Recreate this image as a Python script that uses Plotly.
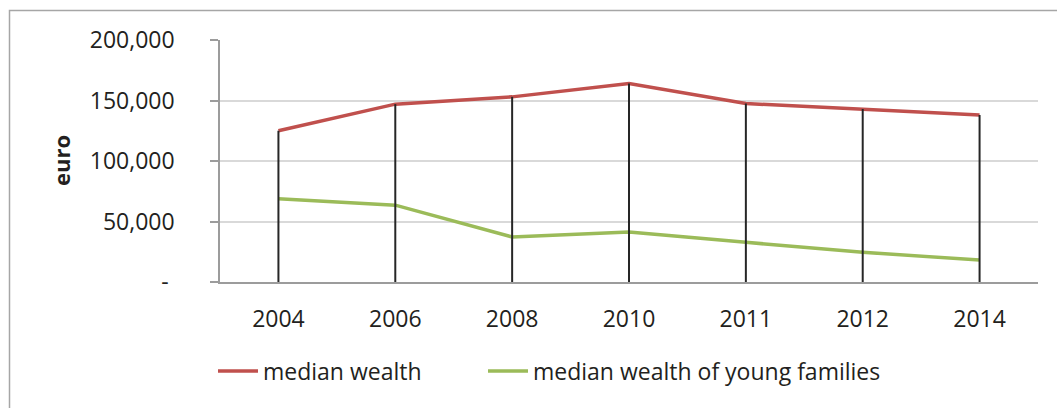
import plotly.graph_objects as go

# Survey years and median household wealth (euro)
years = ["2004", "2006", "2008", "2010", "2011", "2012", "2014"]
median_wealth = [125000, 147000, 153000, 164000, 147500, 143000, 138000]
median_wealth_young = [68700, 63500, 37200, 41300, 32800, 24500, 18100]

y_tick_vals = [0, 50000, 100000, 150000, 200000]
y_tick_text = ["-\u00a0", "50,000", "100,000", "150,000", "200,000"]

RED = "#C0504D"
GREEN = "#9BBB59"
TEXT = "#231F20"
FONT = "Open Sans"

fig = go.Figure()

fig.add_trace(go.Scatter(
    x=years, y=median_wealth, mode="lines", name="median wealth",
    line=dict(color=RED, width=3.5), legend="legend",
))
fig.add_trace(go.Scatter(
    x=years, y=median_wealth_young, mode="lines",
    name="median wealth of young families",
    line=dict(color=GREEN, width=3.5), legend="legend2",
))

# Drop lines from the upper series down to the category axis
drop_x, drop_y = [], []
for yr, v in zip(years, median_wealth):
    drop_x += [yr, yr, None]
    drop_y += [0, v, None]
fig.add_trace(go.Scatter(
    x=drop_x, y=drop_y, mode="lines", showlegend=False, hoverinfo="skip",
    line=dict(color="#262626", width=2),
))

W, H = 1057, 408
L, R, T, B = 220, 19, 40, 126
pw, ph = W - L - R, H - T - B

legend_y = -(371 - (H - B)) / ph
legend_common = dict(
    orientation="h", xanchor="left", y=legend_y, yanchor="middle",
    font=dict(size=23, family=FONT, color=TEXT),
    itemwidth=40, bgcolor="rgba(0,0,0,0)",
)

fig.update_layout(
    width=W, height=H,
    margin=dict(l=L, r=R, t=T, b=B, pad=0),
    paper_bgcolor="white", plot_bgcolor="white",
    font=dict(family=FONT, color=TEXT, size=23),
    showlegend=True,
    legend=dict(x=(213 - L) / pw, **legend_common),
    legend2=dict(x=(483 - L) / pw, **legend_common),
    xaxis=dict(
        type="category", range=[-0.5, 6.5],
        showgrid=False, showline=True, linecolor="#9C9C9C", linewidth=1.5,
        ticks="", tickfont=dict(size=23), ticklabelstandoff=16,
        zeroline=False,
    ),
    yaxis=dict(
        range=[0, 200000], tickvals=y_tick_vals, ticktext=y_tick_text,
        showgrid=True, gridcolor="#D9D9D9", gridwidth=1.5,
        showline=True, linecolor="#9C9C9C", linewidth=1.5,
        ticks="outside", ticklen=8, tickcolor="#9C9C9C", tickwidth=1.5,
        tickfont=dict(size=23), ticklabelstandoff=31,
        zeroline=False,
    ),
    annotations=[dict(
        text="<b>euro</b>", textangle=-90, showarrow=False,
        xref="paper", yref="paper", x=(61 - L) / pw, y=0.5,
        xanchor="center", yanchor="middle",
        font=dict(size=22, family=FONT, color=TEXT),
    )],
    shapes=[dict(
        type="rect", xref="paper", yref="paper",
        x0=(9.5 - L) / pw, x1=(W + 20 - L) / pw,
        y0=-(H + 20 - (H - B)) / ph, y1=1 + (T - 10.5) / ph,
        line=dict(color="#A6A6A6", width=1.5), fillcolor="rgba(0,0,0,0)",
        layer="below",
    )],
)

fig.write_html("out.html")
